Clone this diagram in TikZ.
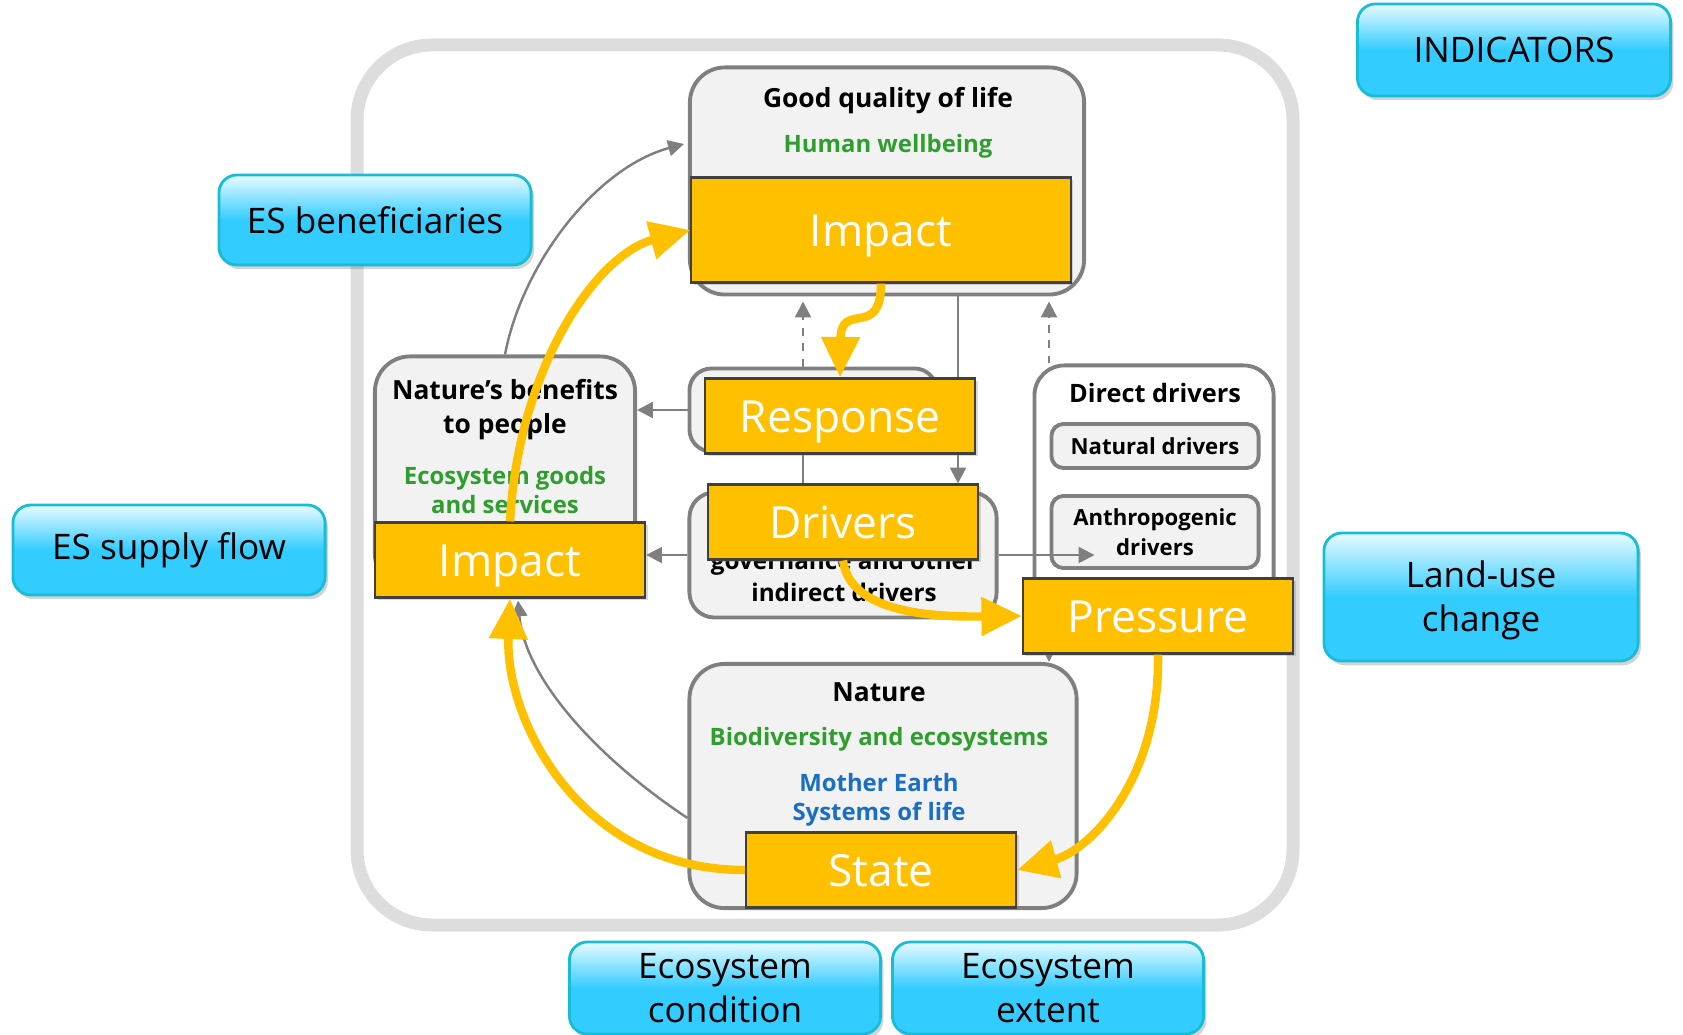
\documentclass[tikz,border=0pt]{standalone}
\usepackage{fontspec}
\setmainfont{Open Sans}
\usetikzlibrary{arrows.meta,shadows}
\pgfdeclarelayer{back}
\pgfdeclarelayer{links}
\pgfsetlayers{back,links,main}
\definecolor{yel}{HTML}{FFC000}
\definecolor{yline}{HTML}{404040}
\definecolor{gline}{HTML}{7F7F7F}
\definecolor{gfill}{HTML}{F2F2F2}
\definecolor{frame}{HTML}{DDDDDD}
\definecolor{subgreen}{HTML}{2F9E2F}
\definecolor{earthblue}{HTML}{1A6FC4}
\definecolor{cardtop}{HTML}{E8FBFF}
\definecolor{cardbot}{HTML}{33CCFF}
\definecolor{cardline}{HTML}{17BDD6}
\begin{document}
\begin{tikzpicture}
    [x=0.01cm, y=-0.01cm,
     card/.style={draw=cardline, line width=0.8pt, rounded corners=0.18cm,
       top color=cardtop, bottom color=cardbot, middle color=cardbot,
       drop shadow={opacity=0.35,shadow xshift=0.8pt,shadow yshift=-1.2pt},
       align=center, inner sep=0pt, minimum width=3.12cm, minimum height=0.9cm,
       font=\fontsize{10}{12.5}\selectfont},
     gbox/.style={draw=gline, line width=1.1pt, fill=gfill, rounded corners=0.35cm, inner sep=0pt},
     ybox/.style={draw=yline, line width=0.6pt, fill=yel, text=white, inner sep=0pt,
       minimum width=2.7cm, minimum height=0.75cm, font=\fontsize{12.6}{15}\selectfont,
       text height=0.96em, text depth=0pt,
       drop shadow={opacity=0.3,shadow xshift=0.8pt,shadow yshift=-0.8pt}},
     hd/.style={font=\bfseries\fontsize{7.5}{9.7}\selectfont, align=center, inner sep=0pt},
     sub/.style={font=\bfseries\fontsize{6.8}{8.5}\selectfont, align=center, inner sep=0pt, text=subgreen},
     garrow/.style={draw=gline, line width=0.7pt, -{Triangle[width=4.5pt,length=4.5pt]}},
     gdash/.style={garrow, dash pattern=on 2.2pt off 2.2pt},
     yarrow/.style={draw=yel, line width=2.4pt, -{Triangle[width=10.5pt,length=11.5pt]}}]
    \useasboundingbox (0,0) rectangle (1683,1034);

    % grey boxes
    \begin{pgfonlayer}{back}
    \draw[frame, line width=3.7pt, rounded corners=0.75cm] (357,45) rectangle (1293,925);

    \node[gbox, minimum width=3.94cm, minimum height=2.27cm] (qual) at (887,181) {};
    \node[hd] (qualT) at (888,101) {Good quality of life};
    \node[sub] (qualS) at (888,146) {Human wellbeing};

    \node[gbox, rounded corners=0.22cm, minimum width=2.47cm, minimum height=0.83cm] (respG) at (813,410) {};

    \node[gbox, rounded corners=0.25cm, minimum width=3.07cm, minimum height=1.25cm] (drvG) at (843,555) {};
    \node[hd, font=\bfseries\fontsize{6.9}{9.1}\selectfont] (drvT) at (844,576) {governance and other\\indirect drivers};

    \node[gbox, minimum width=2.60cm, minimum height=2.33cm] (ben) at (505,473) {};
    \node[hd] (benT) at (505,410) {Nature’s benefits\\to people};
    \node[sub] (benS) at (505,490) {Ecosystem goods\\and services};

    \node[gbox, fill=white, rounded corners=0.3cm, minimum width=2.39cm, minimum height=2.59cm] (direct) at (1154,495) {};
    \node[hd, font=\bfseries\fontsize{7.2}{9}\selectfont] (directT) at (1155,393) {Direct drivers};
    \node[gbox, rounded corners=0.12cm, minimum width=2.07cm, minimum height=0.44cm,
      font=\bfseries\fontsize{6.3}{8.5}\selectfont] (natD) at (1155,446) {Natural drivers};
    \node[gbox, rounded corners=0.12cm, minimum width=2.07cm, minimum height=0.72cm, align=center,
      font=\bfseries\fontsize{6.3}{8.5}\selectfont] (anthD) at (1155,532) {Anthropogenic\\drivers};

    \node[gbox, minimum width=3.87cm, minimum height=2.44cm] (nat) at (883,786) {};
    \node[hd] (natT) at (879,692) {Nature};
    \node[sub] (natS) at (879,739) {Biodiversity and ecosystems};
    \node[sub, text=earthblue, font=\bfseries\fontsize{6.8}{8.3}\selectfont] (natE) at (879,800) {Mother Earth\\Systems of life};
    \end{pgfonlayer}

    % DPSIR boxes
    \node[ybox, minimum width=3.79cm, minimum height=1.05cm] (impT) at (881,230) {Impact};
    \node[ybox] (resp) at (840,416) {Response};
    \node[ybox] (drv) at (843,522) {Drivers};
    \node[ybox] (impL) at (510,560) {Impact};
    \node[ybox] (press) at (1158,616) {Pressure};
    \node[ybox] (state) at (881,870) {State};

    % grey links
    \begin{pgfonlayer}{links}
    \draw[garrow] (ben.north) .. controls (522,265) and (595,168) .. ([shift={(-4,-37)}]qual.west);
    \draw[gdash] ([shift={(-10,0)}]respG.north) -- ([shift={(-84,5)}]qual.south);
    \draw[gdash] ([shift={(-105,0)}]direct.north) -- ([shift={(162,5)}]qual.south);
    \draw[garrow] ([shift={(71,0)}]qual.south) -- ([shift={(115,0)}]drv.north);
    \draw[garrow] (respG.west) -- (respG.west -| ben.east);
    \draw[draw=gline, line width=0.7pt] ([shift={(-10,0)}]respG.south) -- ([shift={(-10,0)}]respG.south |- drvG.north);
    \draw[garrow] (drvG.west) -- (drvG.west -| impL.east);
    \draw[garrow] (drvG.east) -- ([shift={(45,0)}]drvG.east -| anthD.west);
    \draw[garrow] ([shift={(-105,0)}]direct.south) -- ([shift={(-105,0)}]direct.south |- nat.north);
    \draw[garrow] ([shift={(0,32)}]nat.west) .. controls (600,760) and (525,680) .. ([shift={(8,2)}]impL.south);
    \end{pgfonlayer}

    \draw[yarrow] (impL.north) .. controls (518,370) and (595,255) .. (impT.west);
    \draw[yarrow] (impT.south) .. controls (881,340) and (841,300) .. (resp.north);
    \draw[yarrow] (drv.south) .. controls (850,615) and (940,617) .. (press.west);
    \draw[yarrow] (press.south) .. controls (1160,780) and (1090,850) .. (state.east);
    \draw[yarrow] (state.west) .. controls (580,870) and (505,720) .. (impL.south);

    % indicators
    \node[card, minimum width=3.13cm, minimum height=0.92cm] (indic) at (1514,50) {INDICATORS};
    \node[card] (benef) at (375,220) {ES beneficiaries};
    \node[card] (supply) at (169,550) {ES supply flow};
    \node[card, minimum width=3.14cm, minimum height=1.28cm, text height=19.8pt, text depth=0pt] (landuse) at (1481,597) {Land-use\\change};
    \node[card, minimum width=3.11cm, minimum height=0.92cm] (econd) at (725,988) {Ecosystem\\condition};
    \node[card, minimum width=3.11cm, minimum height=0.92cm] (eext) at (1048,988) {Ecosystem\\extent};
\end{tikzpicture}
\end{document}
